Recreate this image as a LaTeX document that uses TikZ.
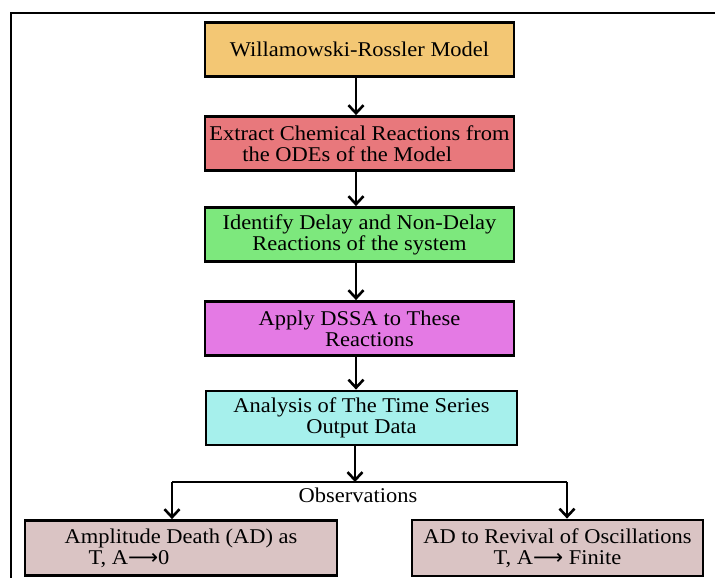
\documentclass[tikz,border=0pt]{standalone}
\usepackage{fontspec}
\setmainfont{Liberation Serif}[FakeStretch=1.07]
\newfontfamily\arrowfont{DejaVu Sans}
\usetikzlibrary{arrows.meta}

\definecolor{boxorange}{HTML}{F3C774}
\definecolor{boxred}{HTML}{E8787C}
\definecolor{boxgreen}{HTML}{7DE87D}
\definecolor{boxmagenta}{HTML}{E47AE4}
\definecolor{boxcyan}{HTML}{A6F0EC}
\definecolor{boxrose}{HTML}{DAC4C4}

\begin{document}
\begin{tikzpicture}[x=1pt,y=1pt,
    stage/.style={draw=black, line width=2.8pt, minimum width=309pt,
      minimum height=54pt, inner sep=0pt,
      font=\fontsize{21}{21}\selectfont, align=center},
    outcome/.style={stage, fill=boxrose},
    flow/.style={line width=2.8pt, -{Straight Barb[length=8pt,width=15pt,line width=2.6pt]}}]
%  \draw [step=50,color=gray] (0,-578) grid (715,0);

  \useasboundingbox (0,0) rectangle (715,-578);

  % outer frame (cut at right and bottom)
  \path (11,-578) coordinate (F0);
  \path (11,-13) coordinate (F1);
  \path (715,-13) coordinate (F2);
  \draw [line width=2.4pt] (F0) -- (F1) -- (F2);

  \path (356,0) coordinate (spine);

  \node [stage, fill=boxorange] (model) at (359.5,-49.5) {Willamowski-Rossler Model};
  \node [stage, fill=boxred, align=left] (extract) at (359.5,-143.5)
    {Extract Chemical Reactions from\\\hspace*{33pt}the ODEs of the Model};
  \node [stage, fill=boxgreen] (identify) at (359.5,-234.5)
    {Identify Delay and Non-Delay\\Reactions of the system};
  \node [stage, fill=boxmagenta] (dssa) at (359.5,-328.5)
    {Apply DSSA to These\\\hspace*{20pt}Reactions};
  \node [stage, fill=boxcyan, minimum width=311pt] (series) at (361.5,-418)
    {Analysis of The Time Series\\Output Data};

  \node [outcome, minimum width=312pt, minimum height=55pt, align=left] (death) at (181,-548)
    {Amplitude Death (AD) as\\\hspace*{24pt}T, A{\arrowfont ⟶}0};
  \node [outcome, minimum width=291pt, minimum height=56pt] (revival) at (557.5,-548)
    {AD to Revival of Oscillations\\T, A{\arrowfont ⟶} Finite};

  \draw [flow] (model.south -| spine) -- (extract.north -| spine);
  \draw [flow] (extract.south -| spine) -- (identify.north -| spine);
  \draw [flow] (identify.south -| spine) -- (dssa.north -| spine);
  \draw [flow] (dssa.south -| spine) -- (series.north -| spine);

  % split into the two observations
  \path (355,-482) coordinate (S0);
  \path (172,-482) coordinate (SL);
  \path (567,-482) coordinate (SR);
  \draw [flow] (series.south -| S0) -- (S0);
  \draw [line width=2.8pt] (SL) -- (SR);
  \draw [flow] (SL) -- (death.north -| SL);
  \draw [flow] (SR) -- (revival.north -| SR);
  \node [font=\fontsize{21}{21}\selectfont, anchor=north] (obs) at (358,-484) {Observations};

\end{tikzpicture}
\end{document}
